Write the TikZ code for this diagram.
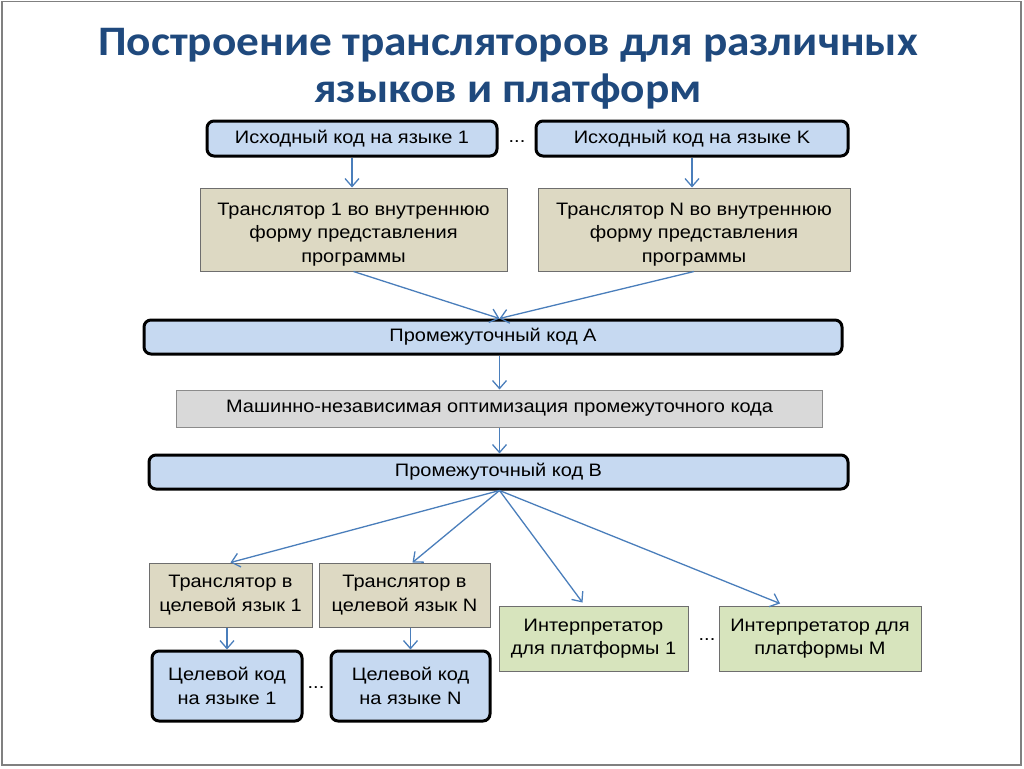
\documentclass[tikz,border=0pt]{standalone}
\usepackage{fontspec}
\setmainfont{Liberation Sans}[FakeStretch=1.11]
\newfontfamily\titlefont{Carlito}[FakeStretch=1.08]
\usetikzlibrary{arrows.meta,calc}
\definecolor{bluefill}{RGB}{198,217,241}
\definecolor{tanfill}{RGB}{221,217,195}
\definecolor{grayfill}{RGB}{217,217,217}
\definecolor{greenfill}{RGB}{215,228,189}
\definecolor{arrowblue}{RGB}{74,126,187}
\definecolor{titleblue}{RGB}{31,73,125}
\definecolor{boxline}{RGB}{110,110,110}
\begin{document}
\begin{tikzpicture}[x=1pt,y=-1pt,
  every node/.style={inner sep=0pt, align=center, font=\fontsize{18}{23.5}\selectfont},
  codebox/.style={draw=black, line width=3pt, rounded corners=7pt, fill=bluefill},
  tanbox/.style={draw=boxline, line width=1pt, fill=tanfill},
  graybox/.style={draw=boxline!80, line width=1pt, fill=grayfill},
  greenbox/.style={draw=boxline, line width=1pt, fill=greenfill},
  arr/.style={draw=arrowblue, line width=1.3pt, -{Straight Barb[length=8pt,width=14pt,line width=1.3pt]}},
  titlestyle/.style={text=titleblue, font=\titlefont\bfseries\fontsize{42}{47}\selectfont}
]
\useasboundingbox (0,0) rectangle (1024,768);
\draw[gray, line width=1.2pt] (2,1.5) rectangle (1021,765);

\node[titlestyle] (title) at (508,69) {Построение трансляторов для различных\\языков и платформ};

\node[codebox, minimum width=290pt, minimum height=35pt] (s1) at (352,138.5) {Исходный код на языке 1};
\node[codebox, minimum width=312pt, minimum height=35pt] (sK) at (692,138.5) {Исходный код на языке K};
\node (dots1) at (517,142) {...};

\node[tanbox, minimum width=307pt, minimum height=83pt] (t1) at (353.5,229.5) {\rule{0pt}{22pt}Транслятор 1 во внутреннюю\\форму представления\\программы};
\node[tanbox, minimum width=312pt, minimum height=83pt] (tN) at (694,229.5) {\rule{0pt}{22pt}Транслятор N во внутреннюю\\форму представления\\программы};

\node[codebox, minimum width=698pt, minimum height=34pt] (A) at (493,337) {Промежуточный код A};
\node[graybox, minimum width=646pt, minimum height=37pt] (opt) at (499.5,408.5) {Машинно-независимая оптимизация промежуточного кода};
\node[codebox, minimum width=699pt, minimum height=34pt] (B) at (498.5,472) {Промежуточный код B};

\node[tanbox, minimum width=163pt, minimum height=64pt] (tt1) at (230.5,595) {Транслятор в\\целевой язык 1};
\node[tanbox, minimum width=171pt, minimum height=64pt] (ttN) at (404.5,595) {Транслятор в\\целевой язык N};
\node[greenbox, minimum width=189pt, minimum height=65pt] (i1) at (593.5,638.5) {Интерпретатор\\для платформы 1};
\node[greenbox, minimum width=202pt, minimum height=65pt] (iM) at (820,638.5) {Интерпретатор для\\платформы M};
\node (dots3) at (707,640) {...};

\node[codebox, minimum width=150pt, minimum height=70pt] (g1) at (227,686) {Целевой код\\на языке 1};
\node[codebox, minimum width=159pt, minimum height=70pt] (gN) at (410.5,686) {Целевой код\\на языке N};
\node (dots2) at (316,688) {...};

\coordinate (Ain) at (A.north -| opt);
\coordinate (Bout) at (B.south -| opt);

\draw[arr] (s1.south) -- (t1.north -| s1);
\draw[arr] (sK.south) -- (tN.north -| sK);
\draw[arr] (t1.south) -- (Ain);
\draw[arr] (tN.south) -- (Ain);
\draw[arr] (A.south -| opt) -- (opt.north);
\draw[arr] (opt.south) -- (B.north -| opt);
\draw[arr] (Bout) -- (tt1.north);
\draw[arr] (Bout) -- ($(ttN.north)+(8,0)$);
\draw[arr] (Bout) -- ($(i1.north)+(-11,-3)$);
\draw[arr] (Bout) -- ($(iM.north)+(-40,-2)$);
\draw[arr] (tt1.south -| g1) -- (g1.north);
\draw[arr] (ttN.south -| gN) -- (gN.north);
\end{tikzpicture}
\end{document}
